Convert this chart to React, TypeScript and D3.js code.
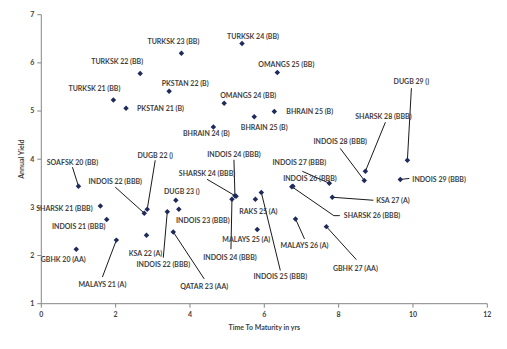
import React from "react";
import * as d3 from "d3";

const names = [
  "GBHK 20 (AA)", "SOAFSK 20 (BB)", "SHARSK 21 (BBB)", "INDOIS 21 (BBB)", "TURKSK 21 (BB)",
  "MALAYS 21 (A)", "PKSTAN 21 (B)", "TURKSK 22 (BB)", "INDOIS 22 (BBB)", "KSA 22 (A)",
  "DUGB 22 ()", "INDOIS 22 (BBB)", "PKSTAN 22 (B)", "QATAR 23 (AA)", "DUGB 23 ()",
  "INDOIS 23 (BBB)", "TURKSK 23 (BB)", "BHRAIN 24 (B)", "OMANGS 24 (BB)", "INDOIS 24 (BBB)",
  "INDOIS 24 (BBB)", "SHARSK 24 (BBB)", "TURKSK 24 (BB)", "BHRAIN 25 (B)", "RAKS 25 (A)",
  "MALAYS 25 (A)", "INDOIS 25 (BBB)", "BHRAIN 25 (B)", "OMANGS 25 (BB)", "SHARSK 26 (BBB)",
  "INDOIS 26 (BBB)", "MALAYS 26 (A)", "INDOIS 27 (BBB)", "GBHK 27 (AA)", "KSA 27 (A)",
  "INDOIS 28 (BBB)", "SHARSK 28 (BBB)", "INDOIS 29 (BBB)", "DUGB 29 ()",
];
const maturity = [
  0.94, 1.0, 1.59, 1.76, 1.94,
  2.02, 2.28, 2.66, 2.77, 2.83,
  2.85, 3.39, 3.44, 3.55, 3.62,
  3.7, 3.77, 4.63, 4.92, 5.13,
  5.21, 5.24, 5.4, 5.73, 5.76,
  5.81, 5.92, 6.27, 6.35, 6.74,
  6.77, 6.84, 7.75, 7.67, 7.83,
  8.69, 8.72, 9.66, 9.85,
];
const yieldVals = [
  2.13, 3.44, 3.03, 2.75, 5.23,
  2.32, 5.06, 5.78, 2.88, 2.42,
  2.96, 2.91, 5.41, 2.49, 3.15,
  2.96, 6.2, 4.67, 5.16, 3.17,
  3.24, 3.23, 6.4, 4.88, 3.17,
  2.54, 3.31, 4.99, 5.8, 3.43,
  3.44, 2.76, 3.5, 2.6, 3.21,
  3.56, 3.75, 3.58, 3.98,
];
const xTicks = [0, 2, 4, 6, 8, 10, 12];
const yTicks = [1, 2, 3, 4, 5, 6, 7];

// label placement (pixel offsets from marker): [dx, dy, anchor, leader points...]
type Lab = { dx: number; dy: number; a?: "start" | "middle"; lead?: [number, number][] };
const labelLayout: Lab[] = [
  { dx: -13, dy: 10 },
  { dx: -6, dy: -24, lead: [[-6, -19]] },
  { dx: -36, dy: 3 },
  { dx: -28, dy: 7 },
  { dx: -19, dy: -11 },
  { dx: -14, dy: 44, lead: [[-14, 37]] },
  { dx: 11, dy: 0, a: "start" },
  { dx: -23, dy: -12 },
  { dx: -29, dy: -32, lead: [[-29, -26]] },
  { dx: -1, dy: 18 },
  { dx: 8, dy: -54, lead: [[8, -49]] },
  { dx: -4, dy: 53, lead: [[-4, 46]] },
  { dx: 16, dy: -8 },
  { dx: 31, dy: 55, lead: [[31, 47]] },
  { dx: 6, dy: -9 },
  { dx: 24, dy: 11 },
  { dx: -8, dy: -12 },
  { dx: -7, dy: 7 },
  { dx: 24, dy: -8 },
  { dx: -2, dy: 58, lead: [[-1, 50]] },
  { dx: -1, dy: -41, lead: [[-1, -36]] },
  { dx: -29, dy: -23, lead: [[-29, -17]] },
  { dx: 11, dy: -7 },
  { dx: 10, dy: 11 },
  { dx: 3, dy: 12 },
  { dx: -11, dy: 10 },
  { dx: 19, dy: 84, lead: [[19, 78]] },
  { dx: 12, dy: 0, a: "start" },
  { dx: 9, dy: -8 },
  { dx: 52, dy: 29, a: "start", lead: [[42, 29], [48, 29]] },
  { dx: 17, dy: -8 },
  { dx: 9, dy: 27, lead: [[9, 20]] },
  { dx: -30, dy: -21, lead: [[-27, -12]] },
  { dx: 29, dy: 42, lead: [[30, 33]] },
  { dx: 44, dy: 3, a: "start", lead: [[41, 3]] },
  { dx: -24, dy: -39, lead: [[-24, -32]] },
  { dx: 18, dy: -55, lead: [[20, -49]] },
  { dx: 12, dy: 0, a: "start", lead: [[9, -1]] },
  { dx: 4, dy: -79, lead: [[4, -72]] },
];

const W = 507;
const H = 349;
const left = 41.3;
const right = 487.3;
const top = 14.7;
const bottom = 303.7;
const FONT = "Lato, 'Open Sans', sans-serif";
const TEXT = "#3f3f3f";
const AXIS = "#868686";
const MARK = "#1F2A5C";

export default function App() {
  const x = d3.scaleLinear().domain([0, 12]).range([left, right]);
  const y = d3.scaleLinear().domain([1, 7]).range([bottom, top]);
  const diamond = d3.symbol().type(d3.symbolSquare).size(15)();

  return (
    <svg
      width={W}
      height={H}
      style={{ position: "absolute", left: 0, top: 0, background: "#fff" }}
      fontFamily={FONT}
    >
      <rect x={0} y={0} width={W} height={H} fill="#fff" />
      {/* axes */}
      <line x1={left} x2={left} y1={top} y2={bottom} stroke={AXIS} strokeWidth={1} />
      <line x1={left} x2={right} y1={bottom} y2={bottom} stroke={AXIS} strokeWidth={1} />
      {yTicks.map((t) => (
        <g key={"y" + t}>
          <line x1={left - 4} x2={left} y1={y(t)} y2={y(t)} stroke={AXIS} />
          <text x={left - 7} y={y(t)} dy="0.35em" textAnchor="end" fontSize={7} fontWeight="bold" fill={TEXT}>
            {t}
          </text>
        </g>
      ))}
      {xTicks.map((t) => (
        <g key={"x" + t}>
          <line x1={x(t)} x2={x(t)} y1={bottom} y2={bottom + 4} stroke={AXIS} />
          <text x={x(t)} y={bottom + 11} dy="0.35em" textAnchor="middle" fontSize={7} fontWeight="bold" fill={TEXT}>
            {t}
          </text>
        </g>
      ))}
      <text x={(left + right) / 2} y={328} dy="0.35em" textAnchor="middle" fontSize={7} fontWeight="bold" fill={TEXT}>
        Time To Maturity in yrs
      </text>
      <text
        transform={`translate(22,${(top + bottom) / 2}) rotate(-90)`}
        dy="0.35em"
        textAnchor="middle"
        fontSize={7}
        fontWeight="bold"
        fill={TEXT}
      >
        Annual Yield
      </text>
      {/* leader lines */}
      {names.map((n, i) => {
        const L = labelLayout[i];
        if (!L.lead) return null;
        const mx = x(maturity[i]);
        const my = y(yieldVals[i]);
        const pts: [number, number][] = [[mx, my], ...L.lead.map(([a, b]) => [mx + a, my + b] as [number, number])];
        return <path key={"l" + i} d={d3.line()(pts) || ""} fill="none" stroke="#000" strokeWidth={0.9} />;
      })}
      {/* markers */}
      {names.map((n, i) => (
        <path
          key={"m" + i}
          d={diamond || ""}
          transform={`translate(${x(maturity[i])},${y(yieldVals[i])}) rotate(45)`}
          fill={MARK}
        />
      ))}
      {/* labels */}
      {names.map((n, i) => {
        const L = labelLayout[i];
        return (
          <text
            key={"t" + i}
            x={x(maturity[i]) + L.dx}
            y={y(yieldVals[i]) + L.dy}
            dy="0.35em"
            textAnchor={L.a || "middle"}
            fontSize={7}
            fontWeight="bold"
            fill={TEXT}
          >
            {n}
          </text>
        );
      })}
    </svg>
  );
}
